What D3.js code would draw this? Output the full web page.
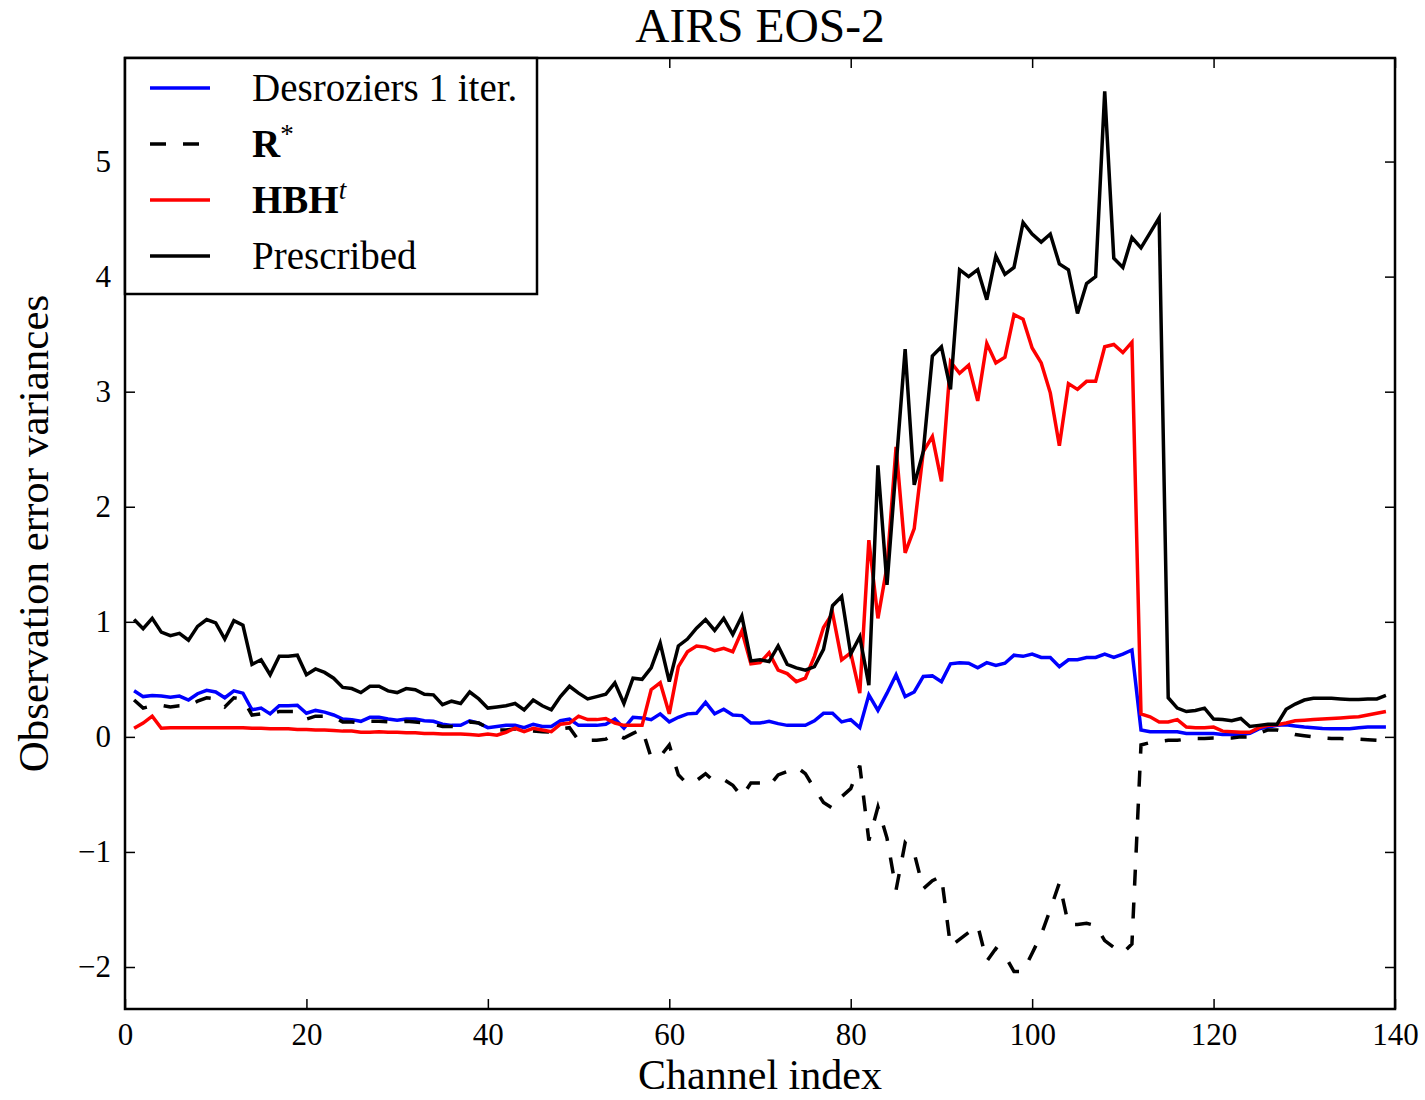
<!DOCTYPE html>
<html>
<head>
  <meta charset="UTF-8">
  <title>AIRS EOS-2</title>
  <style>
    body { margin: 0; background: #fff; }
    svg { display: block; }
    text { font-family: "Liberation Serif", "DejaVu Serif", serif; fill: #000; }
  </style>
</head>
<body>
<svg></svg>
<script src="https://d3js.org/d3.v7.min.js"></script>

<script>

let width = 1425, height = 1100;

// channel index 1..139
let channels = d3.range(1, 140);

let desroziers = [
  0.40, 0.35, 0.36, 0.355, 0.345, 0.355, 0.32, 0.375, 0.405, 0.39,
  0.34, 0.40, 0.38, 0.235, 0.25, 0.20, 0.27, 0.27, 0.275, 0.205,
  0.23, 0.215, 0.19, 0.155, 0.15, 0.135, 0.17, 0.17, 0.155, 0.145,
  0.155, 0.155, 0.14, 0.135, 0.11, 0.10, 0.10, 0.14, 0.12, 0.08,
  0.09, 0.10, 0.10, 0.08, 0.11, 0.09, 0.09, 0.14, 0.155, 0.10,
  0.10, 0.10, 0.11, 0.155, 0.075, 0.17, 0.165, 0.15, 0.20, 0.13,
  0.17, 0.20, 0.205, 0.30, 0.20, 0.24, 0.19, 0.185, 0.12, 0.12,
  0.135, 0.115, 0.10, 0.10, 0.10, 0.14, 0.205, 0.205, 0.13, 0.15,
  0.08, 0.365, 0.23, 0.38, 0.54, 0.35, 0.39, 0.525, 0.53, 0.48,
  0.635, 0.645, 0.64, 0.60, 0.645, 0.62, 0.64, 0.71, 0.70, 0.72,
  0.69, 0.69, 0.61, 0.67, 0.67, 0.69, 0.69, 0.72, 0.69, 0.72,
  0.755, 0.06, 0.045, 0.045, 0.045, 0.045, 0.03, 0.03, 0.03, 0.03,
  0.02, 0.02, 0.02, 0.03, 0.07, 0.085, 0.10, 0.105, 0.095, 0.085,
  0.08, 0.072, 0.07, 0.07, 0.07, 0.08, 0.085, 0.085, 0.085
];

let rStar = [
  0.32, 0.25, 0.27, 0.275, 0.26, 0.27, 0.27, 0.31, 0.34, 0.33,
  0.26, 0.34, 0.33, 0.19, 0.20, 0.20, 0.22, 0.22, 0.22, 0.155,
  0.18, 0.18, 0.17, 0.13, 0.13, 0.12, 0.135, 0.135, 0.13, 0.125,
  0.135, 0.13, 0.12, 0.11, 0.09, 0.09, 0.09, 0.13, 0.12, 0.08,
  0.06, 0.06, 0.07, 0.06, 0.05, 0.045, 0.04, 0.07, 0.08, -0.03,
  -0.03, -0.03, -0.02, 0.03, -0.01, 0.03, 0.07, -0.18, -0.17, -0.07,
  -0.33, -0.41, -0.38, -0.32, -0.39, -0.37, -0.42, -0.52, -0.40, -0.40,
  -0.43, -0.33, -0.30, -0.26, -0.32, -0.45, -0.57, -0.62, -0.52, -0.45,
  -0.25, -0.90, -0.61, -0.88, -1.33, -0.92, -1.01, -1.32, -1.25, -1.21,
  -1.82, -1.76, -1.70, -1.64, -1.95, -1.84, -1.90, -2.04, -2.04, -1.88,
  -1.72, -1.50, -1.27, -1.63, -1.63, -1.62, -1.64, -1.77, -1.83, -1.88,
  -1.80, -0.07, -0.05, -0.04, -0.03, -0.03, -0.02, -0.015, -0.015, -0.01,
  -0.01, -0.01, 0.0, 0.0, 0.03, 0.06, 0.06, 0.04, 0.02, 0.01,
  0.0, -0.01, -0.015, -0.015, -0.02, -0.02, -0.025, -0.03, -0.04
];

let hbht = [
  0.075, 0.12, 0.18, 0.075, 0.08, 0.08, 0.08, 0.08, 0.08, 0.08,
  0.08, 0.08, 0.08, 0.075, 0.075, 0.07, 0.07, 0.07, 0.065, 0.065,
  0.06, 0.06, 0.055, 0.05, 0.05, 0.04, 0.04, 0.045, 0.04, 0.04,
  0.035, 0.035, 0.03, 0.03, 0.025, 0.025, 0.025, 0.02, 0.015, 0.025,
  0.015, 0.04, 0.075, 0.045, 0.075, 0.06, 0.045, 0.11, 0.12, 0.18,
  0.15, 0.15, 0.16, 0.12, 0.10, 0.10, 0.10, 0.41, 0.47, 0.20,
  0.61, 0.74, 0.79, 0.78, 0.75, 0.77, 0.74, 0.92, 0.635, 0.645,
  0.73, 0.58, 0.55, 0.48, 0.51, 0.70, 0.95, 1.075, 0.67, 0.73,
  0.38, 1.71, 1.03, 1.48, 2.52, 1.60, 1.81, 2.48, 2.61, 2.22,
  3.26, 3.16, 3.23, 2.92, 3.42, 3.25, 3.30, 3.67, 3.63, 3.38,
  3.25, 2.99, 2.53, 3.07, 3.02, 3.09, 3.09, 3.39, 3.41, 3.34,
  3.43, 0.20, 0.175, 0.13, 0.13, 0.15, 0.085, 0.08, 0.08, 0.085,
  0.05, 0.045, 0.04, 0.04, 0.08, 0.10, 0.105, 0.12, 0.14, 0.145,
  0.15, 0.155, 0.16, 0.165, 0.17, 0.175, 0.19, 0.205, 0.22
];

let prescribed = [
  1.02, 0.94, 1.03, 0.91, 0.88, 0.90, 0.84, 0.96, 1.02, 0.99,
  0.85, 1.01, 0.97, 0.63, 0.67, 0.54, 0.70, 0.70, 0.71, 0.54,
  0.59, 0.56, 0.51, 0.43, 0.42, 0.385, 0.44, 0.44, 0.40, 0.385,
  0.42, 0.41, 0.37, 0.365, 0.28, 0.31, 0.29, 0.39, 0.33, 0.25,
  0.26, 0.27, 0.29, 0.235, 0.32, 0.27, 0.235, 0.35, 0.44, 0.38,
  0.33, 0.35, 0.37, 0.47, 0.29, 0.51, 0.50, 0.60, 0.815, 0.48,
  0.79, 0.85, 0.945, 1.02, 0.925, 1.03, 0.89, 1.05, 0.66, 0.67,
  0.655, 0.79, 0.63, 0.60, 0.58, 0.61, 0.76, 1.14, 1.22, 0.72,
  0.87, 0.45, 2.36, 1.32, 2.35, 3.37, 2.19, 2.48, 3.31, 3.39,
  3.02, 4.06, 4.00, 4.06, 3.80, 4.18, 4.02, 4.08, 4.47, 4.37,
  4.30, 4.37, 4.11, 4.06, 3.68, 3.94, 4.00, 5.61, 4.16, 4.08,
  4.34, 4.25, 4.38, 4.51, 0.34, 0.25, 0.22, 0.23, 0.25, 0.155,
  0.15, 0.14, 0.16, 0.09, 0.10, 0.11, 0.11, 0.24, 0.285, 0.32,
  0.335, 0.335, 0.335, 0.33, 0.325, 0.325, 0.33, 0.33, 0.36
];

let xTicks = [0, 20, 40, 60, 80, 100, 120, 140];
let yTicks = [-2, -1, 0, 1, 2, 3, 4, 5];

let series = [
  { name: "Desroziers 1 iter.", values: desroziers, color: "#0000ff", dash: null },
  { name: "R*", values: rStar, color: "#000000", dash: "16,17" },
  { name: "HBHt", values: hbht, color: "#ff0000", dash: null },
  { name: "Prescribed", values: prescribed, color: "#000000", dash: null }
];

let margin = { left: 125, right: 30, top: 58, bottom: 91 };

let svg = d3.select("svg")
    .attr("width", width)
    .attr("height", height);

let x = d3.scaleLinear()
    .domain([0, 140])
    .range([margin.left, width - margin.right]);

let y = d3.scaleLinear()
    .domain([-2.365, 5.9])
    .range([height - margin.bottom, margin.top]);

let line = d3.line()
    .x((d, i) => x(channels[i]))
    .y(d => y(d));

// data lines
svg.append("g")
  .attr("id", "lines")
  .selectAll("path")
  .data(series)
  .enter()
  .append("path")
    .attr("fill", "none")
    .attr("stroke", d => d.color)
    .attr("stroke-width", 3.5)
    .attr("stroke-linejoin", "miter")
    .attr("stroke-dasharray", d => d.dash)
    .attr("d", d => line(d.values));

// axes, ticks inward on all four sides
let tickLen = 10;
let fmt = d3.format("d");

let bottomAxis = d3.axisBottom(x).tickValues(xTicks).tickSizeInner(-tickLen).tickSizeOuter(0).tickPadding(14).tickFormat(fmt);
let topAxis = d3.axisTop(x).tickValues(xTicks).tickSizeInner(-tickLen).tickSizeOuter(0).tickFormat("");
let leftAxis = d3.axisLeft(y).tickValues(yTicks).tickSizeInner(-tickLen).tickSizeOuter(0).tickPadding(14).tickFormat(fmt);
let rightAxis = d3.axisRight(y).tickValues(yTicks).tickSizeInner(-tickLen).tickSizeOuter(0).tickFormat("");

let gx = svg.append("g").attr("transform", "translate(0," + y.range()[0] + ")").call(bottomAxis);
let gxt = svg.append("g").attr("transform", "translate(0," + y.range()[1] + ")").call(topAxis);
let gy = svg.append("g").attr("transform", "translate(" + x.range()[0] + ",0)").call(leftAxis);
let gyr = svg.append("g").attr("transform", "translate(" + x.range()[1] + ",0)").call(rightAxis);

[gx, gxt, gy, gyr].forEach(g => {
  g.select(".domain").remove();
  g.selectAll(".tick line").attr("stroke", "#000").attr("stroke-width", 1.5);
  g.selectAll(".tick text")
    .style("font-family", '"Liberation Serif", "DejaVu Serif", serif')
    .attr("font-size", 31)
    .attr("fill", "#000");
});
gx.selectAll(".tick text").attr("dy", "0.72em");

// frame
svg.append("rect")
    .attr("x", x.range()[0])
    .attr("y", y.range()[1])
    .attr("width", x.range()[1] - x.range()[0])
    .attr("height", y.range()[0] - y.range()[1])
    .attr("fill", "none")
    .attr("stroke", "#000")
    .attr("stroke-width", 2.5);

// title and axis labels
svg.append("text")
    .attr("x", (x.range()[0] + x.range()[1]) / 2)
    .attr("y", 42)
    .attr("text-anchor", "middle")
    .attr("font-size", 47.5)
    .text("AIRS EOS-2");

svg.append("text")
    .attr("x", (x.range()[0] + x.range()[1]) / 2)
    .attr("y", 1089)
    .attr("text-anchor", "middle")
    .attr("font-size", 42)
    .text("Channel index");

svg.append("text")
    .attr("transform", "translate(48," + ((y.range()[0] + y.range()[1]) / 2) + ") rotate(-90)")
    .attr("text-anchor", "middle")
    .attr("font-size", 43)
    .text("Observation error variances");

// legend
let legend = svg.append("g").attr("id", "legend");

legend.append("rect")
    .attr("x", x.range()[0])
    .attr("y", y.range()[1])
    .attr("width", 412)
    .attr("height", 236)
    .attr("fill", "#fff")
    .attr("stroke", "#000")
    .attr("stroke-width", 2.5);

let ls_y0 = 88, ls_h = 56;

let entry = legend.selectAll("g.entry")
    .data(series)
    .enter().append("g")
    .attr("class", "entry")
    .attr("transform", (d, i) => "translate(0," + (ls_y0 + i * ls_h) + ")");

entry.append("line")
    .attr("x1", 150)
    .attr("x2", 210)
    .attr("y1", 0)
    .attr("y2", 0)
    .attr("stroke", d => d.color)
    .attr("stroke-width", 3.5)
    .attr("stroke-dasharray", d => d.dash);

let labels = entry.append("text")
    .attr("x", 252)
    .attr("y", 13)
    .attr("font-size", 39);

labels.each(function(d) {
  let t = d3.select(this);
  if (d.name == "R*") {
    t.append("tspan").attr("font-weight", "bold").text("R");
    t.append("tspan").attr("font-size", 27).attr("dy", -14).text("*");
  } else if (d.name == "HBHt") {
    t.append("tspan").attr("font-weight", "bold").text("HBH");
    t.append("tspan").attr("font-size", 27).attr("font-style", "italic").attr("dy", -14).text("t");
  } else {
    t.text(d.name);
  }
});

</script>

</body>
</html>
